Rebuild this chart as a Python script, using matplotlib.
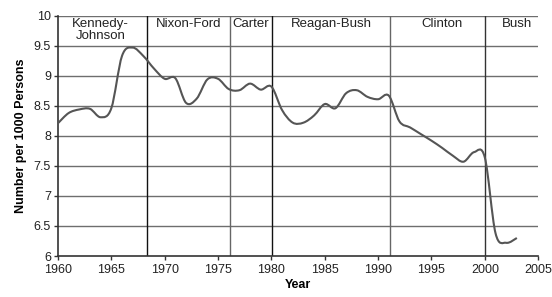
import numpy as np
import matplotlib.pyplot as plt
from matplotlib.path import Path
from matplotlib.patches import PathPatch

plt.rcParams['font.family'] = ['Liberation Sans', 'DejaVu Sans']

# yearly values
years = list(range(1960, 2004))
values = [8.21, 8.38, 8.44, 8.45, 8.31, 8.46, 9.33, 9.47, 9.33, 9.12,
          8.95, 8.96, 8.55, 8.62, 8.94, 8.95, 8.78, 8.76, 8.87, 8.77,
          8.82, 8.43, 8.22, 8.22, 8.34, 8.53, 8.46, 8.71, 8.76, 8.65,
          8.61, 8.67, 8.24, 8.14, 8.03, 7.92, 7.80, 7.67, 7.57, 7.73,
          7.64, 6.38, 6.22, 6.30]

# administrations: boundary years and label positions
era_bounds = [1968.3, 1976.1, 1980.1, 1991.1, 2000.0]
era_colors = ['#111111', '#666666', '#111111', '#666666', '#333333']
era_names = ['Kennedy-\nJohnson', 'Nixon-Ford', 'Carter', 'Reagan-Bush', 'Clinton', 'Bush']
era_label_x = [1964.0, 1972.2, 1978.1, 1985.65, 1996.0, 2003.0]


def smooth_path(x, y, t=1/6):
    # Excel-style smoothed line: Catmull-Rom -> cubic Bezier
    x = np.asarray(x, float)
    y = np.asarray(y, float)
    n = len(x)
    verts = [(x[0], y[0])]
    codes = [Path.MOVETO]
    for i in range(n - 1):
        i0 = max(i - 1, 0)
        i3 = min(i + 2, n - 1)
        c1 = (x[i] + (x[i + 1] - x[i0]) * t, y[i] + (y[i + 1] - y[i0]) * t)
        c2 = (x[i + 1] - (x[i3] - x[i]) * t, y[i + 1] - (y[i3] - y[i]) * t)
        verts += [c1, c2, (x[i + 1], y[i + 1])]
        codes += [Path.CURVE4] * 3
    return Path(verts, codes)


fig = plt.figure(figsize=(5.52, 2.97), dpi=100)
ax = fig.add_axes([0.105, 0.138, 0.870, 0.809])

ax.set_xlim(1960, 2005)
ax.set_ylim(6, 10)
ax.set_xticks(range(1960, 2006, 5))
ax.set_yticks(np.arange(6, 10.01, 0.5))
ax.set_yticklabels(['6', '6.5', '7', '7.5', '8', '8.5', '9', '9.5', '10'])

for yv in np.arange(6.5, 10.01, 0.5):
    ax.axhline(yv, color='#6e6e6e', lw=1.0, zorder=1)

for xb, c in zip(era_bounds, era_colors):
    ax.axvline(xb, color=c, lw=1.0, zorder=1)

for xl, name in zip(era_label_x, era_names):
    ax.text(xl, 9.96, name, ha='center', va='top', fontsize=9.5,
            color='#222222', linespacing=1.0, zorder=3)

patch = PathPatch(smooth_path(years, values), facecolor='none',
                  edgecolor='#555555', lw=1.5, zorder=4)
ax.add_patch(patch)

for side in ['top', 'right']:
    ax.spines[side].set_visible(False)
for side in ['left', 'bottom']:
    ax.spines[side].set_color('#333333')
    ax.spines[side].set_linewidth(1.2)

ax.tick_params(axis='both', labelsize=9, length=3, width=1, color='#333333',
               labelcolor='#222222', pad=2)
ax.tick_params(axis='x', pad=3)
ax.set_xlabel('Year', fontsize=9, fontweight='bold', labelpad=2)
ax.set_ylabel('Number per 1000 Persons', fontsize=9, fontweight='bold', labelpad=5)

fig.savefig('out.png', dpi=100)
